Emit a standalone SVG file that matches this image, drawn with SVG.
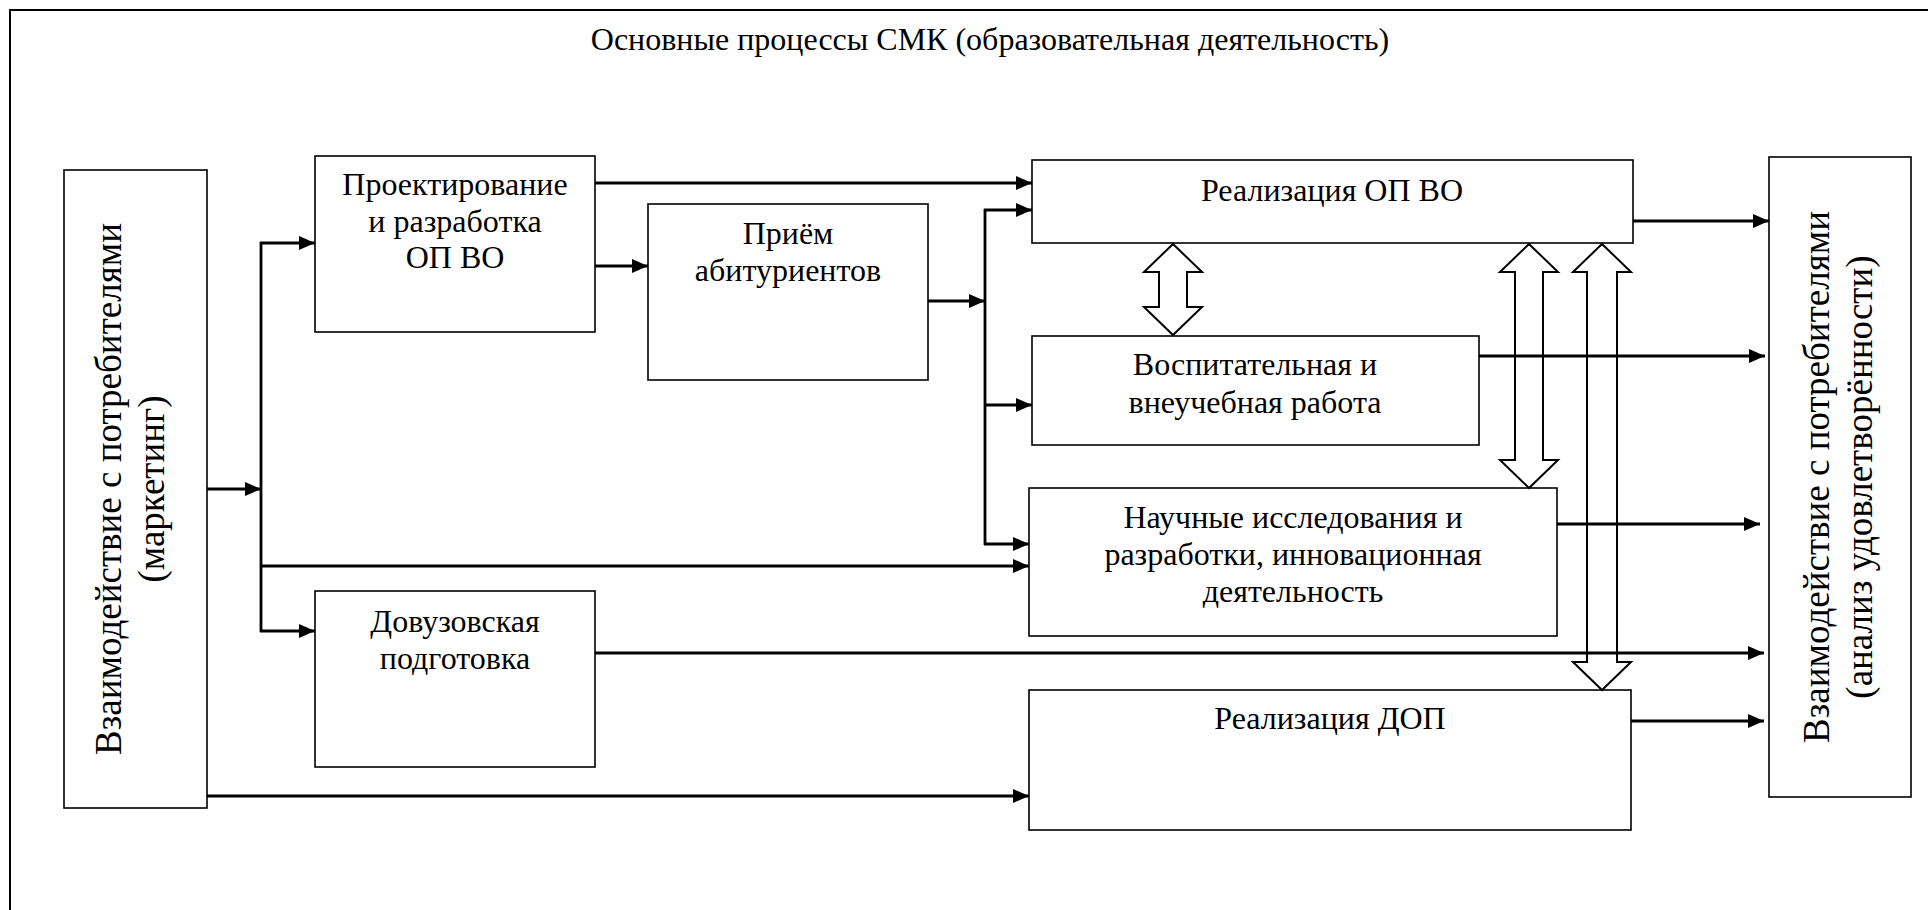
<svg xmlns="http://www.w3.org/2000/svg" width="1928" height="910" viewBox="0 0 1928 910">
  <defs>
    <marker id="ah" markerUnits="userSpaceOnUse" markerWidth="18" markerHeight="15" refX="16" refY="7" orient="auto">
      <path d="M0,0 L16,7 L0,14 z" fill="#000"/>
    </marker>
  </defs>
  <style>
    .box { fill: #fff; stroke: #000; stroke-width: 1.6; }
    .t { font-family: "Liberation Serif", "Times New Roman", serif; font-size: 32px; fill: #000; text-anchor: middle; }
    .v { font-family: "Liberation Serif", "Times New Roman", serif; font-size: 37px; fill: #000; text-anchor: middle; }
    .c { fill: none; stroke: #000; stroke-width: 2.8; }
    .ca { fill: none; stroke: #000; stroke-width: 2.8; marker-end: url(#ah); }
    .dbl { fill: #fff; stroke: #000; stroke-width: 2; stroke-linejoin: miter; }
  </style>
  <rect x="0" y="0" width="1928" height="910" fill="#fff"/>
  <rect x="10" y="10" width="1940" height="930" fill="none" stroke="#000" stroke-width="2"/>
  <text class="t" x="990" y="50">Основные процессы СМК (образовательная деятельность)</text>

  <g id="n-marketing">
    <rect class="box" x="64" y="170" width="143" height="638"/>
    <text class="v" transform="translate(121,489) rotate(-90)">Взаимодействие с потребителями</text>
    <text class="v" transform="translate(164,489) rotate(-90)">(маркетинг)</text>
  </g>
  <g id="n-design">
    <rect class="box" x="315" y="156" width="280" height="176"/>
    <text class="t" x="455" y="195">Проектирование</text>
    <text class="t" x="455" y="232">и разработка</text>
    <text class="t" x="455" y="268">ОП ВО</text>
  </g>
  <g id="n-admission">
    <rect class="box" x="648" y="204" width="280" height="176"/>
    <text class="t" x="788" y="244">Приём</text>
    <text class="t" x="788" y="281">абитуриентов</text>
  </g>
  <g id="n-opvo">
    <rect class="box" x="1032" y="160" width="601" height="83"/>
    <text class="t" x="1332" y="201">Реализация ОП ВО</text>
  </g>
  <g id="n-educ">
    <rect class="box" x="1032" y="336" width="447" height="109"/>
    <text class="t" x="1255" y="375">Воспитательная и</text>
    <text class="t" x="1255" y="413">внеучебная работа</text>
  </g>
  <g id="n-research">
    <rect class="box" x="1029" y="488" width="528" height="148"/>
    <text class="t" x="1293" y="528">Научные исследования и</text>
    <text class="t" x="1293" y="565">разработки, инновационная</text>
    <text class="t" x="1293" y="602">деятельность</text>
  </g>
  <g id="n-preuni">
    <rect class="box" x="315" y="591" width="280" height="176"/>
    <text class="t" x="455" y="632">Довузовская</text>
    <text class="t" x="455" y="669">подготовка</text>
  </g>
  <g id="n-dop">
    <rect class="box" x="1029" y="690" width="602" height="140"/>
    <text class="t" x="1330" y="729">Реализация ДОП</text>
  </g>
  <g id="n-satisfaction">
    <rect class="box" x="1769" y="157" width="142" height="640"/>
    <text class="v" transform="translate(1829,477) rotate(-90)">Взаимодействие с потребителями</text>
    <text class="v" transform="translate(1872,477) rotate(-90)">(анализ удовлетворённости)</text>
  </g>

  <g id="connectors">
    <polygon class="dbl" points="1173,244 1202,272 1187,272 1187,307 1202,307 1173,335 1144,307 1159,307 1159,272 1144,272"/>
    <polygon class="dbl" points="1529,244 1558,272 1543,272 1543,460 1558,460 1529,488 1500,460 1515,460 1515,272 1500,272"/>
    <polygon class="dbl" points="1602,244 1631,272 1617,272 1617,662 1631,662 1602,690 1573,662 1587,662 1587,272 1573,272"/>

    <line class="ca" x1="207" y1="489" x2="261" y2="489"/>
    <line class="c" x1="261" y1="242" x2="261" y2="632"/>
    <line class="ca" x1="260" y1="243" x2="315" y2="243"/>
    <line class="ca" x1="260" y1="566" x2="1029" y2="566"/>
    <line class="ca" x1="260" y1="631" x2="315" y2="631"/>
    <line class="ca" x1="207" y1="796" x2="1029" y2="796"/>

    <line class="ca" x1="595" y1="183" x2="1032" y2="183"/>
    <line class="ca" x1="595" y1="266" x2="648" y2="266"/>
    <line class="ca" x1="928" y1="301" x2="985" y2="301"/>
    <line class="c" x1="985" y1="209" x2="985" y2="545"/>
    <line class="ca" x1="984" y1="210" x2="1032" y2="210"/>
    <line class="ca" x1="984" y1="405" x2="1032" y2="405"/>
    <line class="ca" x1="984" y1="544" x2="1029" y2="544"/>

    <line class="ca" x1="1633" y1="221" x2="1769" y2="221"/>
    <line class="ca" x1="1479" y1="356" x2="1765" y2="356"/>
    <line class="ca" x1="1557" y1="524" x2="1760" y2="524"/>
    <line class="ca" x1="595" y1="653" x2="1764" y2="653"/>
    <line class="ca" x1="1631" y1="721" x2="1764" y2="721"/>
  </g>
</svg>
